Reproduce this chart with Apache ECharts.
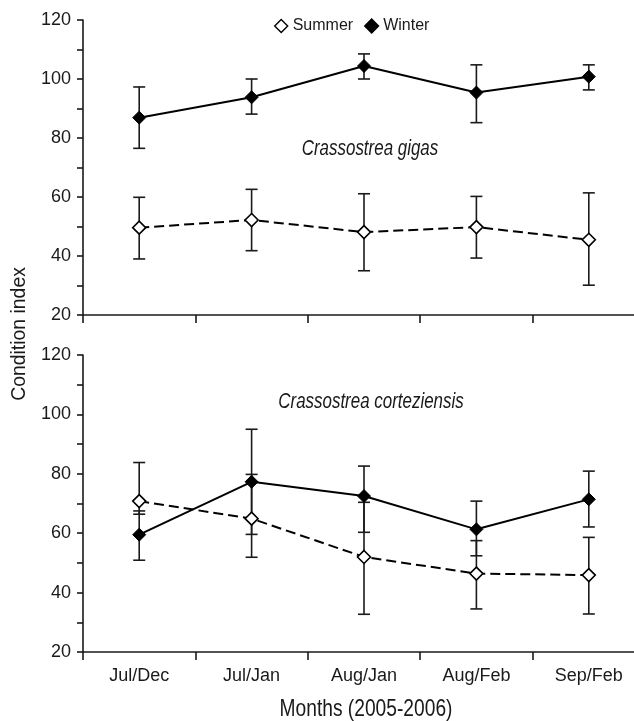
<!DOCTYPE html>
<html>
<head>
<meta charset="utf-8">
<script src="https://cdn.jsdelivr.net/npm/echarts@6/dist/echarts.min.js"></script>
<style>
html,body{margin:0;padding:0;background:#fff;}
#chart{width:634px;height:721px;}
</style>
</head>
<body>
<div id="chart"></div>
<script>
const categories = ['Jul/Dec', 'Jul/Jan', 'Aug/Jan', 'Aug/Feb', 'Sep/Feb'];
const yTicks = [20, 40, 60, 80, 100, 120];

const gigasSummer = [49.6, 52.2, 48.1, 49.8, 45.5];
const gigasSummerLow = [39.0, 41.8, 35.0, 39.3, 30.1];
const gigasSummerHigh = [59.9, 62.6, 61.1, 60.2, 61.4];
const gigasWinter = [86.9, 93.8, 104.4, 95.4, 100.8];
const gigasWinterLow = [76.5, 88.1, 100.0, 85.2, 96.3];
const gigasWinterHigh = [97.3, 100.0, 108.5, 104.8, 104.8];

const cortSummer = [70.8, 64.9, 52.0, 46.4, 45.9];
const cortSummerLow = [66.4, 51.9, 32.7, 34.5, 32.8];
const cortSummerHigh = [83.8, 79.8, 70.4, 57.5, 58.6];
const cortWinter = [59.5, 77.3, 72.5, 61.3, 71.4];
const cortWinterLow = [50.9, 59.6, 60.3, 52.4, 62.1];
const cortWinterHigh = [67.5, 95.0, 82.6, 70.8, 80.9];

const FONT = "'Liberation Sans Narrow', 'Arial Narrow', 'Liberation Sans', Arial, sans-serif";
const INK = '#1a1a1a';

function errData(low, high) {
  return low.map((l, i) => [i, l, high[i]]);
}
function errRender(params, api) {
  const i = api.value(0);
  const lo = api.coord([i, api.value(1)]);
  const hi = api.coord([i, api.value(2)]);
  const hw = 6;
  const st = { stroke: INK, lineWidth: 1.6, fill: null };
  return {
    type: 'group',
    children: [
      { type: 'line', shape: { x1: lo[0], y1: lo[1], x2: hi[0], y2: hi[1] }, style: st },
      { type: 'line', shape: { x1: lo[0] - hw, y1: lo[1], x2: lo[0] + hw, y2: lo[1] }, style: st },
      { type: 'line', shape: { x1: hi[0] - hw, y1: hi[1], x2: hi[0] + hw, y2: hi[1] }, style: st }
    ]
  };
}

function xAxis(gridIndex, showLabels) {
  return {
    type: 'category', gridIndex: gridIndex, data: categories, boundaryGap: true,
    axisLine: { lineStyle: { color: INK, width: 1.6 } },
    axisTick: { show: true, length: 8, inside: false, lineStyle: { color: INK, width: 1.6 } },
    axisLabel: { show: showLabels, margin: 15, fontFamily: FONT, fontSize: 18, color: INK },
    splitLine: { show: false }
  };
}
function yAxis(gridIndex) {
  return {
    type: 'value', gridIndex: gridIndex, min: 20, max: 120, interval: 10,
    axisLine: { show: true, lineStyle: { color: INK, width: 1.6 } },
    axisTick: { show: true, length: 6, lineStyle: { color: INK, width: 1.6 } },
    axisLabel: {
      margin: 12, fontFamily: FONT, fontSize: 18, color: INK,
      formatter: v => (yTicks.indexOf(v) >= 0 ? String(v) : '')
    },
    splitLine: { show: false }
  };
}
function lineSeries(name, data, idx, summer) {
  return {
    name: name, type: 'line', xAxisIndex: idx, yAxisIndex: idx, data: data,
    symbol: 'diamond', symbolSize: 13, z: 5,
    itemStyle: summer ? { color: '#fff', borderColor: '#000', borderWidth: 1.6 } : { color: '#000', borderColor: '#000', borderWidth: 1 },
    lineStyle: { color: '#000', width: 2, type: summer ? [10, 5] : 'solid' },
    emphasis: { disabled: true }, animation: false
  };
}
function errSeries(idx, low, high) {
  return {
    type: 'custom', xAxisIndex: idx, yAxisIndex: idx, z: 2,
    data: errData(low, high), renderItem: errRender, animation: false, silent: true
  };
}
function label(text, x, y, size, sx, extraStyle, rot) {
  return {
    type: 'text', x: x, y: y, scaleX: sx, rotation: rot || 0,
    style: Object.assign({ text: text, fontFamily: FONT, fontSize: size, fill: INK, align: 'center', verticalAlign: 'middle' }, extraStyle || {})
  };
}

const chart = echarts.init(document.getElementById('chart'), null, { renderer: 'canvas' });
chart.setOption({
  animation: false,
  backgroundColor: '#fff',
  grid: [
    { left: 83, top: 20, width: 562, height: 295, outerBoundsMode: 'none', containLabel: false },
    { left: 83, top: 355, width: 562, height: 297, outerBoundsMode: 'none', containLabel: false }
  ],
  xAxis: [xAxis(0, false), xAxis(1, true)],
  yAxis: [yAxis(0), yAxis(1)],
  legend: {
    left: 269, top: 13, itemWidth: 13, itemHeight: 13, itemGap: 11,
    textStyle: { fontFamily: FONT, fontSize: 16, color: INK, padding: [0, 0, 0, 0] },
    data: [
      { name: 'Summer', icon: 'diamond', itemStyle: { color: '#fff', borderColor: '#000', borderWidth: 1.4 } },
      { name: 'Winter', icon: 'diamond', itemStyle: { color: '#000' } }
    ],
    selectedMode: false
  },
  graphic: [
    label('Crassostrea gigas', 370, 149, 22, 0.77, { fontStyle: 'italic' }),
    label('Crassostrea corteziensis', 371, 402, 22, 0.77, { fontStyle: 'italic' }),
    label('Months (2005-2006)', 366, 709, 24, 0.8),
    label('Condition index', 19, 334, 20, 0.97, null, Math.PI / 2)
  ],
  series: [
    errSeries(0, gigasSummerLow, gigasSummerHigh),
    errSeries(0, gigasWinterLow, gigasWinterHigh),
    errSeries(1, cortSummerLow, cortSummerHigh),
    errSeries(1, cortWinterLow, cortWinterHigh),
    lineSeries('Summer', gigasSummer, 0, true),
    lineSeries('Winter', gigasWinter, 0, false),
    lineSeries('Summer', cortSummer, 1, true),
    lineSeries('Winter', cortWinter, 1, false)
  ]
});
</script>
</body>
</html>
